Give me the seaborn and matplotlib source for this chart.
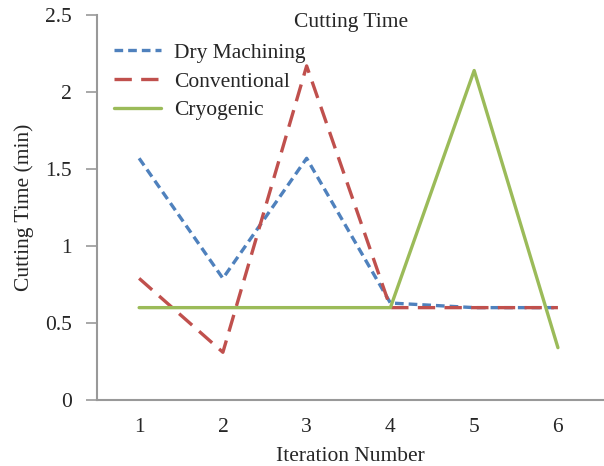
import matplotlib
matplotlib.use("Agg")
import matplotlib.pyplot as plt
import seaborn as sns
import pandas as pd

iterations = [1, 2, 3, 4, 5, 6]
dry_machining = [1.57, 0.79, 1.57, 0.63, 0.60, 0.60]
conventional = [0.79, 0.31, 2.17, 0.60, 0.60, 0.60]
cryogenic = [0.60, 0.60, 0.60, 0.60, 2.14, 0.34]
series_names = ["Dry Machining", "Conventional", "Cryogenic"]
y_ticks = [0, 0.5, 1, 1.5, 2, 2.5]
y_tick_labels = ["0", "0.5", "1", "1.5", "2", "2.5"]

rows = []
for name, vals in zip(series_names, [dry_machining, conventional, cryogenic]):
    for it, v in zip(iterations, vals):
        rows.append({"Iteration": it, "Time": v, "Series": name})
df = pd.DataFrame(rows)

sns.set_style("white")
plt.rcParams["font.family"] = ["Liberation Serif", "DejaVu Serif"]

FS = 15.5
fig = plt.figure(figsize=(6.04, 4.66), dpi=100)
ax = fig.add_axes([0.161, 0.1416, 0.839, 0.826])

palette = {"Dry Machining": "#4F81BD", "Conventional": "#C0504D", "Cryogenic": "#9BBB59"}
dashes = {"Dry Machining": (2.6, 1.5), "Conventional": (5.2, 2.8), "Cryogenic": ""}

sns.lineplot(data=df, x="Iteration", y="Time", hue="Series", style="Series",
             palette=palette, dashes=dashes, linewidth=2.4, ax=ax,
             hue_order=series_names, style_order=series_names)

ax.set_xlim(0.5, 6.55)
ax.set_ylim(0, 2.5)
ax.set_xticks(iterations)
ax.set_xticklabels([str(i) for i in iterations], fontsize=FS)
ax.set_yticks(y_ticks)
ax.set_yticklabels(y_tick_labels, fontsize=FS)
ax.tick_params(axis="y", length=8, width=1.2, color="#999999", direction="out", pad=10, left=True)
ax.tick_params(axis="x", length=0, pad=13)

for s in ["top", "right"]:
    ax.spines[s].set_visible(False)
for s in ["left", "bottom"]:
    ax.spines[s].set_color("#999999")
    ax.spines[s].set_linewidth(1.5)

ax.set_xlabel("Iteration Number", fontsize=FS, labelpad=7)
ax.set_ylabel("Cutting Time (min)", fontsize=FS, labelpad=8)
ax.text(0.5, 1.005, "Cutting Time", transform=ax.transAxes, ha="center", va="top", fontsize=FS)

leg = ax.legend(loc="upper left", bbox_to_anchor=(-0.006, 0.978), frameon=False, fontsize=FS,
                handlelength=2.2, handletextpad=0.62, labelspacing=0.4)

fig.savefig("out.png", dpi=100)
